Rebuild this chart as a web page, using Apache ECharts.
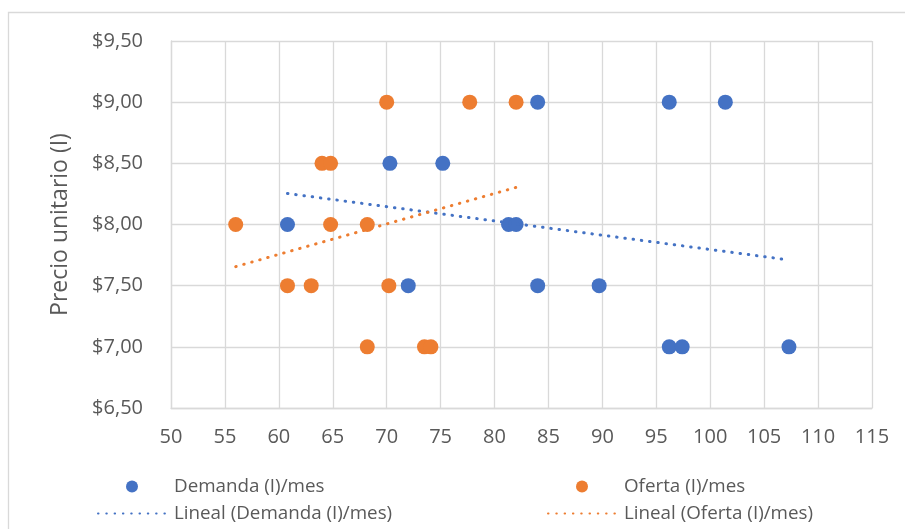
<!DOCTYPE html>
<html>
<head>
<meta charset="utf-8">
<script src="https://cdn.jsdelivr.net/npm/echarts@6/dist/echarts.min.js"></script>
<style>
  html, body { margin: 0; padding: 0; background: #ffffff; }
  #chart { width: 905px; height: 529px; }
</style>
</head>
<body>
<div id="chart"></div>
<script>
// Quantity (x) and unit price (y) for demand and supply
const demandaX = [84.0, 96.2, 101.4, 70.3, 75.2, 60.8, 81.3, 82.0, 72.0, 84.0, 89.7, 96.2, 97.4, 107.3];
const demandaY = [9.0, 9.0, 9.0, 8.5, 8.5, 8.0, 8.0, 8.0, 7.5, 7.5, 7.5, 7.0, 7.0, 7.0];
const ofertaX = [70.0, 77.7, 82.0, 64.0, 64.8, 56.0, 64.8, 68.2, 60.8, 63.0, 70.2, 68.2, 73.5, 74.1];
const ofertaY = [9.0, 9.0, 9.0, 8.5, 8.5, 8.0, 8.0, 8.0, 7.5, 7.5, 7.5, 7.0, 7.0, 7.0];

const seriesNames = ['Demanda (I)/mes', 'Oferta (I)/mes', 'Lineal (Demanda (I)/mes)', 'Lineal (Oferta (I)/mes)'];
const xTicks = { min: 50, max: 115, step: 5 };
const yTicks = { min: 6.5, max: 9.5, step: 0.5 };

const BLUE = '#4472C4';
const ORANGE = '#ED7D31';
const GRID = '#D9D9D9';
const TEXT = '#595959';
const FONT = '"Open Sans", sans-serif';

function pairs(xs, ys) { return xs.map((x, i) => [x, ys[i]]); }

// Least-squares linear trend, drawn across the range of the data
function linearTrend(xs, ys) {
  const n = xs.length;
  const mx = xs.reduce((a, b) => a + b, 0) / n;
  const my = ys.reduce((a, b) => a + b, 0) / n;
  let sxy = 0, sxx = 0;
  for (let i = 0; i < n; i++) {
    sxy += (xs[i] - mx) * (ys[i] - my);
    sxx += (xs[i] - mx) * (xs[i] - mx);
  }
  const slope = sxy / sxx;
  const icpt = my - slope * mx;
  const x0 = Math.min(...xs), x1 = Math.max(...xs);
  return [[x0, icpt + slope * x0], [x1, icpt + slope * x1]];
}

const dotted = (color) => ({ color: color, width: 3, type: [0.5, 7.8], cap: 'round' });
const legendText = { color: TEXT, fontFamily: FONT, fontSize: 18.8 };

// Marker legends: a single dot followed by the label
const markerLegend = (name, left) => ({
  data: [name], left: left, top: 477, padding: 0, itemGap: 0,
  itemWidth: 12, itemHeight: 12,
  textStyle: Object.assign({ padding: [0, 0, 0, 31] }, legendText)
});
// Trend legends: a dotted segment followed by the label
const lineLegend = (name, left) => ({
  data: [name], left: left, top: 504, padding: 0, itemGap: 0,
  itemWidth: 70, itemHeight: 12,
  itemStyle: { opacity: 0 },
  textStyle: Object.assign({ padding: [0, 0, 0, 1] }, legendText)
});

const chart = echarts.init(document.getElementById('chart'), null, { renderer: 'canvas' });
chart.setOption({
  backgroundColor: '#ffffff',
  animation: false,
  graphic: [{
    type: 'rect',
    shape: { x: 8.5, y: 12.5, width: 1000, height: 1000 },
    style: { fill: 'none', stroke: GRID, lineWidth: 1.3 },
    silent: true,
    z: -10
  }],
  grid: { left: 171, top: 41, right: 33, bottom: 121, containLabel: false },
  legend: [
    markerLegend(seriesNames[0], 126),
    markerLegend(seriesNames[1], 576),
    lineLegend(seriesNames[2], 97),
    lineLegend(seriesNames[3], 547)
  ],
  xAxis: {
    type: 'value',
    min: xTicks.min,
    max: xTicks.max,
    interval: xTicks.step,
    axisLine: { show: true, lineStyle: { color: GRID, width: 1.3 } },
    axisTick: { show: false },
    splitLine: { show: true, lineStyle: { color: GRID, width: 1.3 } },
    axisLabel: { color: TEXT, fontFamily: FONT, fontSize: 20, margin: 19 }
  },
  yAxis: {
    type: 'value',
    min: yTicks.min,
    max: yTicks.max,
    interval: yTicks.step,
    name: 'Precio unitario (I)',
    nameLocation: 'middle',
    nameGap: 99,
    nameTextStyle: { color: TEXT, fontFamily: FONT, fontSize: 23 },
    axisLine: { show: true, lineStyle: { color: GRID, width: 1.3 } },
    axisTick: { show: false },
    splitLine: { show: true, lineStyle: { color: GRID, width: 1.3 } },
    axisLabel: {
      color: TEXT, fontFamily: FONT, fontSize: 20, margin: 28,
      formatter: (v) => '$' + v.toFixed(2).replace('.', ',')
    }
  },
  series: [
    {
      name: seriesNames[0], type: 'scatter', data: pairs(demandaX, demandaY),
      symbol: 'circle', symbolSize: 15, itemStyle: { color: BLUE, opacity: 1 }, z: 2
    },
    {
      name: seriesNames[1], type: 'scatter', data: pairs(ofertaX, ofertaY),
      symbol: 'circle', symbolSize: 15, itemStyle: { color: ORANGE, opacity: 1 }, z: 2
    },
    {
      name: seriesNames[2], type: 'line', data: linearTrend(demandaX, demandaY),
      symbol: 'none', lineStyle: dotted(BLUE), itemStyle: { color: BLUE }, z: 3
    },
    {
      name: seriesNames[3], type: 'line', data: linearTrend(ofertaX, ofertaY),
      symbol: 'none', lineStyle: dotted(ORANGE), itemStyle: { color: ORANGE }, z: 3
    }
  ]
});
</script>
</body>
</html>
